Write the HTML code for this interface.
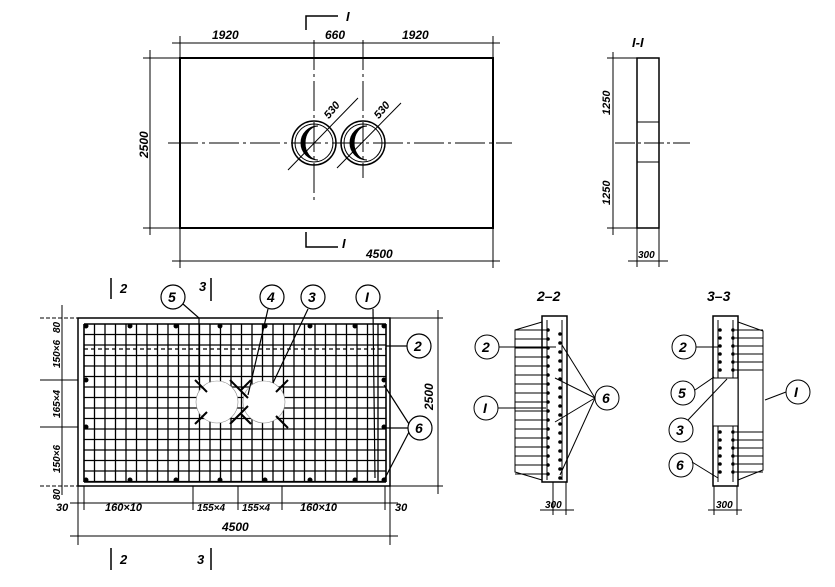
<!DOCTYPE html>
<html><head><meta charset="utf-8"><style>
html,body{margin:0;padding:0;background:#fff}
svg{display:block}
text{font-family:"Liberation Sans",sans-serif;font-style:italic;font-weight:bold;fill:#000;stroke:none}
</style></head><body>
<svg id="s" width="835" height="587" viewBox="0 0 835 587" xmlns="http://www.w3.org/2000/svg" stroke="#000" fill="none">
<!-- top plan -->
<rect x="180" y="58" width="313" height="170" stroke-width="2"/>
<line x1="168" y1="143" x2="512" y2="143" stroke-width="1" stroke-dasharray="30,4,3,4"/>
<line x1="314" y1="40" x2="314" y2="203" stroke-dasharray="30,4,3,4"/>
<line x1="363" y1="40" x2="363" y2="178" stroke-dasharray="30,4,3,4"/>
<circle cx="314" cy="143" r="22" stroke-width="1.5"/><circle cx="363" cy="143" r="22" stroke-width="1.5"/>
<circle cx="314" cy="143" r="19"/><circle cx="363" cy="143" r="19"/>
<path d="M318 126 A17 17 0 0 0 318 160 A13 17 0 0 1 318 126Z" fill="#000"/>
<path d="M367 126 A17 17 0 0 0 367 160 A13 17 0 0 1 367 126Z" fill="#000"/>
<line x1="288" y1="170" x2="358" y2="98"/><line x1="337" y1="168" x2="401" y2="103"/>
<text x="322" y="115" font-size="11" transform="rotate(-50 330 110)">530</text>
<text x="372" y="115" font-size="11" transform="rotate(-50 380 110)">530</text>
<line x1="172" y1="43" x2="500" y2="43"/>
<line x1="180" y1="36" x2="180" y2="58"/><line x1="493" y1="36" x2="493" y2="58"/>
<text x="212" y="39" font-size="12">1920</text><text x="325" y="39" font-size="12">660</text><text x="402" y="39" font-size="12">1920</text>
<line x1="150" y1="50" x2="150" y2="235"/><line x1="143" y1="58" x2="180" y2="58"/><line x1="143" y1="228" x2="180" y2="228"/>
<text x="0" y="0" font-size="12" transform="translate(148,158) rotate(-90)">2500</text>
<line x1="172" y1="261" x2="500" y2="261"/><line x1="180" y1="228" x2="180" y2="268"/><line x1="493" y1="228" x2="493" y2="268"/>
<text x="366" y="258" font-size="12">4500</text>
<path d="M306 30 V16 H338" stroke-width="1.5"/><path d="M306 232 V247 H338" stroke-width="1.5"/>
<text x="346" y="21" font-size="13" font-style="normal">I</text><text x="342" y="248" font-size="13" font-style="normal">I</text>
<!-- section I-I -->
<text x="632" y="47" font-size="13" font-style="normal">I-I</text>
<rect x="637" y="58" width="22" height="170" stroke-width="1.5"/>
<line x1="637" y1="122" x2="659" y2="122"/><line x1="637" y1="162" x2="659" y2="162"/>
<line x1="615" y1="143" x2="690" y2="143" stroke-dasharray="20,3,3,3"/>
<line x1="613" y1="52" x2="613" y2="235"/><line x1="607" y1="58" x2="637" y2="58"/><line x1="607" y1="228" x2="637" y2="228"/>
<text x="0" y="0" font-size="11" transform="translate(610,115) rotate(-90)">1250</text>
<text x="0" y="0" font-size="11" transform="translate(610,205) rotate(-90)">1250</text>
<line x1="628" y1="261" x2="668" y2="261"/><line x1="637" y1="228" x2="637" y2="267"/><line x1="659" y1="228" x2="659" y2="267"/>
<text x="638" y="258" font-size="10">300</text>
<!-- bottom plan -->
<rect x="78" y="318" width="312" height="168" stroke-width="1.5"/>
<g id="grid" stroke-width="1.3"></g>
<line x1="84" y1="349" x2="386" y2="349" stroke-dasharray="4,3" stroke-width="1.3"/>
<circle cx="217" cy="402" r="21" fill="#fff" stroke="#888" stroke-width="0.6"/>
<circle cx="264" cy="402" r="21" fill="#fff" stroke="#888" stroke-width="0.6"/>
<g stroke-width="2"><line x1="195" y1="380" x2="207" y2="392"/><line x1="195" y1="424" x2="207" y2="412"/><line x1="230" y1="380" x2="248" y2="398"/><line x1="230" y1="424" x2="248" y2="406"/><line x1="251" y1="380" x2="240" y2="391"/><line x1="251" y1="424" x2="240" y2="413"/><line x1="288" y1="380" x2="276" y2="392"/><line x1="288" y1="428" x2="276" y2="416"/></g>
<line x1="40" y1="318" x2="78" y2="318" stroke-dasharray="4,2"/><line x1="40" y1="380" x2="78" y2="380"/><line x1="40" y1="427" x2="78" y2="427"/><line x1="40" y1="486" x2="78" y2="486" stroke-dasharray="4,2"/>
<line x1="62" y1="305" x2="62" y2="495"/>
<text x="0" y="0" font-size="10" transform="translate(60,333) rotate(-90)">80</text>
<text x="0" y="0" font-size="10" transform="translate(60,368) rotate(-90)">150×6</text>
<text x="0" y="0" font-size="10" transform="translate(60,418) rotate(-90)">165×4</text>
<text x="0" y="0" font-size="10" transform="translate(60,473) rotate(-90)">150×6</text>
<text x="0" y="0" font-size="10" transform="translate(60,500) rotate(-90)">80</text>
<line x1="390" y1="318" x2="443" y2="318"/><line x1="390" y1="486" x2="443" y2="486"/><line x1="438" y1="310" x2="438" y2="494"/>
<text x="0" y="0" font-size="12" transform="translate(433,410) rotate(-90)">2500</text>
<line x1="70" y1="503" x2="398" y2="503"/>
<g><line x1="78" y1="486" x2="78" y2="545"/><line x1="84" y1="486" x2="84" y2="510"/><line x1="193" y1="486" x2="193" y2="510"/><line x1="238" y1="486" x2="238" y2="510"/><line x1="282" y1="486" x2="282" y2="510"/><line x1="385" y1="486" x2="385" y2="510"/><line x1="390" y1="486" x2="390" y2="545"/></g>
<text x="56" y="511" font-size="11">30</text><text x="105" y="511" font-size="11">160×10</text><text x="197" y="511" font-size="10">155×4</text><text x="242" y="511" font-size="10">155×4</text><text x="300" y="511" font-size="11">160×10</text><text x="395" y="511" font-size="11">30</text>
<line x1="70" y1="536" x2="398" y2="536"/><text x="222" y="531" font-size="12">4500</text>
<line x1="111" y1="278" x2="111" y2="299" stroke-width="1.5"/><text x="120" y="293" font-size="13" font-style="normal">2</text>
<line x1="211" y1="278" x2="211" y2="301" stroke-width="1.5"/><text x="199" y="291" font-size="13" font-style="normal">3</text>
<line x1="111" y1="548" x2="111" y2="570" stroke-width="1.5"/><text x="120" y="564" font-size="13" font-style="normal">2</text>
<line x1="211" y1="548" x2="211" y2="570" stroke-width="1.5"/><text x="197" y="564" font-size="13" font-style="normal">3</text>
<!-- callouts bottom plan -->
<g stroke-width="1.2">
<circle cx="173" cy="297" r="12"/><circle cx="272" cy="297" r="12"/><circle cx="313" cy="297" r="12"/><circle cx="368" cy="297" r="12"/><circle cx="419" cy="346" r="12"/><circle cx="420" cy="428" r="12"/>
<path d="M183 304 L199 318 V380"/><line x1="268" y1="309" x2="248" y2="395"/><line x1="308" y1="309" x2="273" y2="383"/><line x1="373" y1="309" x2="375" y2="478"/>
<line x1="386" y1="346" x2="407" y2="346"/><line x1="384" y1="385" x2="409" y2="424"/><line x1="384" y1="428" x2="408" y2="428"/><line x1="384" y1="480" x2="409" y2="432"/>
</g>
<g font-size="14" font-style="normal"><text x="168" y="302">5</text><text x="267" y="302">4</text><text x="308" y="302">3</text><text x="365" y="302">I</text><text x="414" y="351">2</text><text x="415" y="433">6</text></g>
<!-- section 2-2 -->
<text x="537" y="301" font-size="14" font-style="normal">2–2</text>
<rect x="542" y="316" width="25" height="166" stroke-width="1.5"/>
<polyline points="542,322 515,330 515,472 542,480"/>
<g id="fan22"></g>
<line x1="553" y1="482" x2="553" y2="515"/><line x1="566" y1="482" x2="566" y2="515"/><line x1="540" y1="510" x2="574" y2="510"/><text x="545" y="508" font-size="10">300</text>
<circle cx="487" cy="347" r="12"/><circle cx="486" cy="408" r="12"/><circle cx="607" cy="398" r="12"/>
<line x1="499" y1="347" x2="556" y2="347"/><line x1="498" y1="408" x2="546" y2="408"/>
<line x1="595" y1="398" x2="562" y2="345"/><line x1="595" y1="398" x2="555" y2="378"/><line x1="595" y1="398" x2="555" y2="422"/><line x1="595" y1="398" x2="560" y2="475"/>
<g font-size="14" font-style="normal"><text x="482" y="352">2</text><text x="483" y="413">I</text><text x="602" y="403">6</text></g>
<!-- section 3-3 -->
<text x="707" y="301" font-size="14" font-style="normal">3–3</text>
<rect x="713" y="316" width="25" height="170" stroke-width="1.5"/>
<rect x="713" y="378" width="25" height="48" fill="#fff"/>
<polyline points="738,322 763,331 763,378"/><polyline points="763,426 763,470 738,480"/><line x1="763" y1="378" x2="763" y2="426"/>
<g id="fan33"></g>
<line x1="714" y1="486" x2="714" y2="515"/><line x1="737" y1="486" x2="737" y2="515"/><line x1="708" y1="510" x2="742" y2="510"/><text x="716" y="508" font-size="10">300</text>
<circle cx="684" cy="347" r="12"/><circle cx="683" cy="393" r="12"/><circle cx="681" cy="430" r="12"/><circle cx="681" cy="465" r="12"/><circle cx="798" cy="392" r="12"/>
<line x1="696" y1="347" x2="718" y2="347"/><line x1="695" y1="390" x2="714" y2="377"/><line x1="688" y1="420" x2="727" y2="379"/><line x1="692" y1="462" x2="718" y2="478"/><line x1="786" y1="392" x2="765" y2="400"/>
<g font-size="14" font-style="normal"><text x="679" y="352">2</text><text x="678" y="398">5</text><text x="676" y="435">3</text><text x="676" y="470">6</text><text x="794" y="397">I</text></g>
</svg>
<script>
var NS="http://www.w3.org/2000/svg";
function L(g,a,b,c,d,w){var e=document.createElementNS(NS,"line");e.setAttribute("x1",a);e.setAttribute("y1",b);e.setAttribute("x2",c);e.setAttribute("y2",d);if(w)e.setAttribute("stroke-width",w);g.appendChild(e);}
function C(g,x,y,r){var e=document.createElementNS(NS,"circle");e.setAttribute("cx",x);e.setAttribute("cy",y);e.setAttribute("r",r);e.setAttribute("fill","#000");e.setAttribute("stroke","none");g.appendChild(e);}
var g=document.getElementById("grid");
L(g,84,324,84,482,1.6);L(g,386,324,386,482,1.6);L(g,84,324,386,324,1.6);L(g,84,482,386,482,1.6);
for(var x=84+10.5;x<386;x+=10.5)L(g,x,324,x,482);
for(var y=324+10.5;y<482;y+=10.5)L(g,84,y,386,y);
[[86,326],[130,326],[176,326],[220,326],[265,326],[310,326],[355,326],[384,326],[86,380],[86,427],[384,380],[384,427],[86,480],[130,480],[176,480],[220,480],[265,480],[310,480],[355,480],[384,480]].forEach(function(p){C(g,p[0],p[1],2.5)});
var f=document.getElementById("fan22");
for(var y=330;y<475;y+=9){L(f,515,y,548,y);C(f,548,y,1.8);C(f,560,y+4,1.8);}
L(f,547,320,547,480);L(f,562,320,562,480);
var h=document.getElementById("fan33");
for(var y=330;y<378;y+=8){L(h,763,y,735,y);C(h,720,y,1.8);C(h,733,y,1.8);}
for(var y=432;y<478;y+=8){L(h,763,y,735,y);C(h,720,y,1.8);C(h,733,y,1.8);}
L(h,718,320,718,378);L(h,733,320,733,378);L(h,718,426,718,482);L(h,733,426,733,482);
</script>
</body></html>
